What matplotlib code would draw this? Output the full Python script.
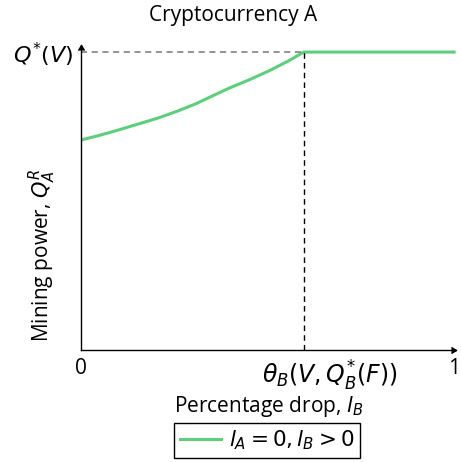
import numpy as np
import matplotlib.pyplot as plt

plt.rcParams['font.family'] = ['Open Sans', 'DejaVu Sans']
plt.rcParams['mathtext.fontset'] = 'dejavusans'

# mining power of A as the percentage drop in B grows
drop_pts = [0.0, 0.045, 0.099, 0.152, 0.205, 0.259, 0.307, 0.344, 0.397,
            0.451, 0.504, 0.557, 0.597, 1.0]
power_pts = [0.705, 0.719, 0.738, 0.758, 0.778, 0.802, 0.826, 0.848, 0.879,
             0.907, 0.937, 0.971, 1.0, 1.0]
theta_b = 0.597
q_star = 1.0

x_ticks = [0, 1]
x_ticklabels = ['0', '1']
theta_label = r'$\theta_B(V, Q_B^{*}(F))$'

fig = plt.figure(figsize=(4.61, 4.62), dpi=100)
ax = fig.add_axes([0.1757, 0.2424, 0.8134, 0.661])

green = '#5ccf7b'
ax.plot(drop_pts, power_pts, color=green, lw=2.2, label=r'$l_A = 0, l_B > 0$',
        solid_joinstyle='round')
ax.plot([0, theta_b], [q_star, q_star], ls=(0, (4, 3)), color='#777777', lw=1.1)
ax.plot([theta_b, theta_b], [0, q_star], ls=(0, (4, 3)), color='black', lw=1.0)

ax.set_xlim(0, 1.005)
ax.set_ylim(0, 1.025)
for s in ['top', 'right']:
    ax.spines[s].set_visible(False)
for s in ['left', 'bottom']:
    ax.spines[s].set_linewidth(1.0)

# small arrow heads at the axis ends
ax.plot(1.005, 0, marker=5, color='black', ms=5, clip_on=False)
ax.plot(0, 1.025, marker=6, color='black', ms=5, clip_on=False)

ax.set_xticks(x_ticks)
ax.set_xticklabels(x_ticklabels, fontsize=15)
ax.set_yticks([q_star])
ax.set_yticklabels([r'$Q^{*}(V)$'], fontsize=16)
ax.tick_params(length=0, pad=6)

# threshold label under the dashed line, nudged to the right
ax.annotate(theta_label, xy=(theta_b, 0), xycoords=('data', 'axes fraction'),
            xytext=(18.5, -6.5), textcoords='offset points',
            ha='center', va='top', fontsize=17)

ax.set_xlabel(r'Percentage drop, $l_B$', fontsize=15)
ax.set_ylabel(r'Mining power, $Q_A^R$', fontsize=15)
ax.xaxis.set_label_coords(0.5, -0.145)
ax.yaxis.set_label_coords(-0.06, 0.31)

fig.suptitle('Cryptocurrency A', fontsize=15, x=0.505, y=0.99)

leg = fig.legend(loc='lower center', bbox_to_anchor=(0.58, -0.014), fontsize=15.5,
                 fancybox=False, edgecolor='black', framealpha=1,
                 handlelength=1.9, borderpad=0.25, handletextpad=0.4)
leg.get_frame().set_linewidth(1.0)

fig.savefig('out.png', dpi=100)
